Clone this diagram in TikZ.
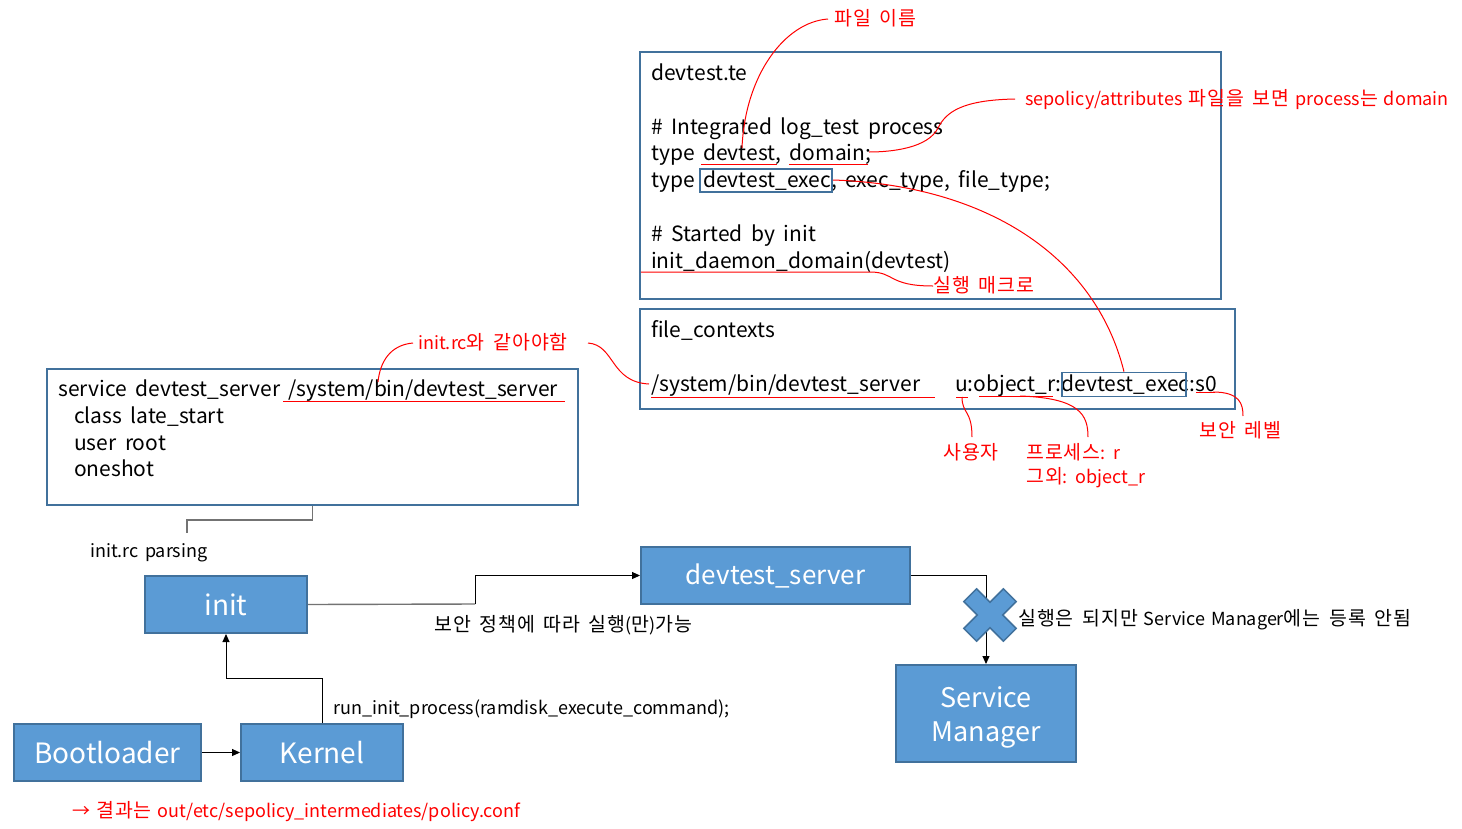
\documentclass[tikz,border=0pt]{standalone}
\usepackage{fontspec}
\setmainfont[WordSpace=1.5]{Noto Sans CJK KR}
\newfontfamily\kr[Scale=1.08,LetterSpace=5,WordSpace=1.6]{Noto Sans CJK KR}
\newfontfamily\codefont[WordSpace=1.8]{Noto Sans CJK KR}
\usetikzlibrary{arrows.meta}
\definecolor{boxblue}{HTML}{5B9BD5}
\definecolor{edgeblue}{HTML}{41719C}
\definecolor{annred}{HTML}{FF0000}
\begin{document}
\begin{tikzpicture}[x=1pt,y=-1pt,
  frame/.style={draw=edgeblue,line width=2pt,inner sep=0,fill=none},
  bluebox/.style={draw=edgeblue,line width=2pt,fill=boxblue,text=white,inner sep=0,align=center,font=\fontsize{28}{32}\selectfont},
  boxtext/.style={text=white,inner sep=0,align=center},
  code/.style={font=\codefont\fontsize{21}{24}\selectfont,anchor=base west,inner sep=0},
  ann/.style={text=annred,font=\fontsize{18}{22}\selectfont,anchor=base west,inner sep=0,align=left},
  lbl/.style={font=\fontsize{18}{22}\selectfont,anchor=base west,inner sep=0},
  redline/.style={draw=annred,line width=1pt},
  smallframe/.style={draw=edgeblue,line width=1.6pt},
  arrowline/.style={draw=black,line width=1pt,-{Triangle[length=8pt,width=7pt]}},
  grayline/.style={draw=black!55,line width=1.4pt}
]
\useasboundingbox (0,0) rectangle (1462,828);

% ---------- frames ----------
\node[frame,minimum width=581pt,minimum height=247pt] (tebox) at (930.5,175.5) {};
\node[frame,minimum width=595pt,minimum height=100pt] (fcbox) at (937.5,359) {};
\node[frame,minimum width=531pt,minimum height=136pt] (svcbox) at (312.5,437) {};

% ---------- devtest.te text ----------
\node[code] (te1) at (651,80) {devtest.te};
\node[code] (te2) at (651,134) {\# Integrated log\_test process};
\node[code] (te3) at (651,160) {type devtest, domain;};
\node[code] (te4) at (651,187) {type devtest\_exec, exec\_type, file\_type;};
\node[code] (te5) at (651,241) {\# Started by init};
\node[code] (te6) at (651,268) {init\_daemon\_domain(devtest)};

% ---------- file_contexts text ----------
\node[code] (fc1) at (651,337) {file\_contexts};
\node[code] (fc2) at (651,391) {/system/bin/devtest\_server};
\node[code] (fc3) at (955,391) {u:object\_r:devtest\_exec:s0};

% ---------- service text ----------
\node[code] (sv1) at (58,396) {service devtest\_server /system/bin/devtest\_server};
\node[code] (sv2) at (74,423) {class late\_start};
\node[code] (sv3) at (74,450) {user root};
\node[code] (sv4) at (74,476) {oneshot};

% ---------- small blue frames ----------
\node[smallframe,inner sep=0,minimum width=132pt,minimum height=23pt] (exec1) at (766,180.5) {};
\node[smallframe,inner sep=0,minimum width=124pt,minimum height=24pt] (exec2) at (1124,384.5) {};

% ---------- annotations ----------
\node[ann] (a1) at (834,25) {{\kr 파일 이름}};
\node[ann] (a2) at (1025,105) {sepolicy/attributes {\kr 파일을 보면} process{\kr 는} domain};
\node[ann] (a3) at (933,292) {{\kr 실행 매크로}};
\node[ann] (a4) at (418,349) {init.rc{\kr 와 같아야함}};
\node[ann] (a5) at (943,459) {{\kr 사용자}};
\node[ann] (a6) at (1026,459) {{\kr 프로세스}: r};
\node[ann] (a7) at (1026,483) {{\kr 그외}: object\_r};
\node[ann] (a8) at (1199,437) {{\kr 보안 레벨}};
\node[ann] (a9) at (72,817) {→ {\kr 결과는} out/etc/sepolicy\_intermediates/policy.conf};

% underline / curve anchor coordinates
\coordinate (u1a) at (701,164); \coordinate (u1b) at (777,164);
\coordinate (u2a) at (789,164); \coordinate (u2b) at (868,164);
\coordinate (u3a) at (641,272); \coordinate (u3b) at (870,272);
\coordinate (u4a) at (283,401); \coordinate (u4b) at (565,401);
\coordinate (u5a) at (651,397); \coordinate (u5b) at (935,397);
\coordinate (u6a) at (956,397); \coordinate (u6b) at (968,397);
\coordinate (u7a) at (979,396); \coordinate (u7b) at (1053,396);
\coordinate (u8a) at (1196,392); \coordinate (u8b) at (1215,392);

\draw[redline] (u1a) -- (u1b);
\draw[redline] (u2a) -- (u2b);
\draw[redline] (u3a) -- (u3b) .. controls (895,272) and (888,286) .. (a3.west |- 0,286);
\draw[redline] (u4a) -- (u4b);
\draw[redline] (u5a) -- (u5b);
\draw[redline] (u6a) -- (u6b);
\draw[redline] (u7a) -- (u7b);
\draw[redline] (u8a) -- (u8b);

% curves
\coordinate (c1s) at (828,19); \coordinate (c1e) at (742,148);
\draw[redline] (c1s) .. controls (785,22) and (745,75) .. (c1e);
\coordinate (c2s) at (1015,99); \coordinate (c2m) at (938,128); \coordinate (c2e) at (869,152);
\draw[redline] (c2s) .. controls (962,100) and (946,112) .. (c2m) .. controls (928,148) and (892,152) .. (c2e);
\coordinate (c3s) at (833,180);
\draw[redline] (c3s) .. controls (985,185) and (1095,255) .. (exec2.north);
\coordinate (c4s) at (413,343); \coordinate (c4e) at (378,382);
\draw[redline] (c4s) .. controls (390,345) and (380,362) .. (c4e);
\coordinate (c5s) at (588,343); \coordinate (c5e) at (649,384);
\draw[redline] (c5s) .. controls (615,345) and (610,382) .. (c5e);
\coordinate (c6s) at (962,397); \coordinate (c6e) at (972,437);
\draw[redline] (c6s) .. controls (962,414) and (972,410) .. (c6e);
\coordinate (c7s) at (1020,396); \coordinate (c7e) at (1088,437);
\draw[redline] (c7s) .. controls (1080,398) and (1088,415) .. (c7e);
\coordinate (c8s) at (1213,392); \coordinate (c8e) at (1243,416);
\draw[redline] (c8s) .. controls (1240,392) and (1243,404) .. (c8e);

% ---------- blue process boxes ----------
\node[bluebox,minimum width=162pt,minimum height=57pt] (init) at (226,604.5) {init};
\node[bluebox,minimum width=269pt,minimum height=57pt,font=\fontsize{26}{30}\selectfont] (devsrv) at (775.5,575.5) {devtest\_server};
\node[bluebox,minimum width=180pt,minimum height=97pt] (sm) at (986,713.5) {};
\node[boxtext,font=\fontsize{27}{34}\selectfont] (smtext) at (986,717.5) {Service\\Manager};
\node[bluebox,minimum width=187pt,minimum height=57pt] (boot) at (107.5,752.5) {Bootloader};
\node[bluebox,minimum width=162pt,minimum height=57pt] (kernel) at (322,752.5) {Kernel};

% ---------- connectors ----------
\coordinate (parseend) at (187,533);
\draw[grayline] (svcbox.south) -- ++(0,14) -| (parseend);
\node[lbl] (parse) at (90,557) {init.rc parsing};

\coordinate (bend1) at (475,604);
\draw[grayline] (init.east) -- (bend1);
\draw[arrowline] (bend1) |- (devsrv.west);
\node[lbl] (pol) at (434,631) {{\kr 보안 정책에 따라 실행}({\kr 만}){\kr 가능}};

\draw[arrowline] (devsrv.east) -| (sm.north);
\path[fill=boxblue,draw=edgeblue,line width=1.5pt,shift={(990,615)},rotate=45]
  (-9,-28) -- (9,-28) -- (9,-9) -- (28,-9) -- (28,9) -- (9,9) -- (9,28) -- (-9,28) -- (-9,9) -- (-28,9) -- (-28,-9) -- (-9,-9) -- cycle;
\node[lbl] (noreg) at (1018,625) {{\kr 실행은 되지만} Service Manager{\kr 에는 등록 안됨}};

\draw[arrowline] (kernel.north) -- ++(0,-45) -| (init.south);
\node[lbl] (run) at (333,714) {run\_init\_process(ramdisk\_execute\_command);};

\draw[arrowline] (boot) -- (kernel);
\end{tikzpicture}
\end{document}
